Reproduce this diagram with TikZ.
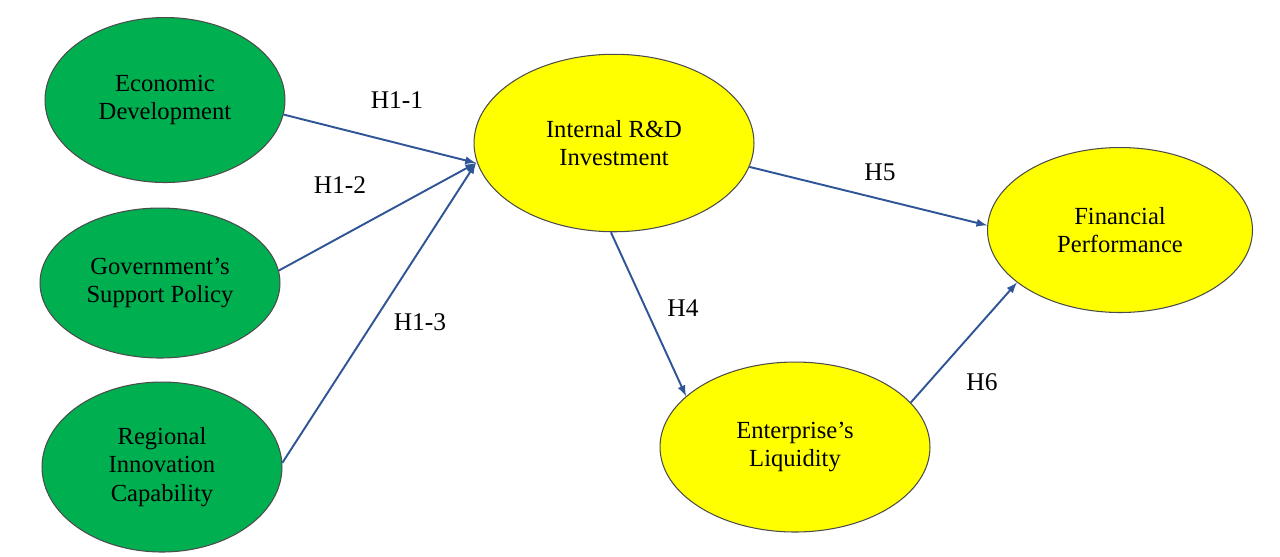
\documentclass[tikz,border=0pt]{standalone}
\usepackage{fontspec}
\setmainfont{Liberation Serif}
\usetikzlibrary{shapes.geometric}
\definecolor{ovgreen}{RGB}{0,176,80}
\definecolor{ovyellow}{RGB}{255,255,0}
\definecolor{arblue}{RGB}{47,85,151}
\tikzset{
  oval/.style={ellipse,draw=black!70,line width=0.6pt,align=center,font=\fontsize{14}{16}\selectfont},
  gov/.style={oval,fill=ovgreen,minimum width=4.8cm,minimum height=3.2cm},
  firm/.style={oval,fill=ovyellow},
  path/.style={draw=arblue,line width=1.1pt,-latex},
  hyp/.style={font=\fontsize{14.5}{16}\selectfont}
}
\begin{document}
\begin{tikzpicture}[x=0.02cm,y=-0.02cm]
  \useasboundingbox (0,0) rectangle (1280,556);
  % factors
  \node[gov,minimum height=3.3cm] (eco) at (165,100) {Economic\\Development};
  \node[gov,minimum height=3.0cm] (gsp) at (160,283) {Government's\\Support Policy};
  \node[gov,minimum height=3.4cm] (ric) at (162,467) {Regional\\Innovation\\Capability};
  % firm level
  \node[firm,minimum width=5.6cm,minimum height=3.55cm] (rd) at (614,143) {Internal R\&D\\Investment};
  \node[firm,minimum width=5.3cm,minimum height=3.3cm] (fin) at (1120,230) {Financial\\Performance};
  \node[firm,minimum width=5.4cm,minimum height=3.4cm] (liq) at (795,447) {Enterprise's\\Liquidity};
  \coordinate (rdin) at (476,163);
  % hypotheses
  \draw[path] (eco.-7) -- (rdin);
  \draw[path] (gsp.6) -- (rdin);
  \draw[path] (ric.2) -- (rdin);
  \draw[path] (rd.-10) -- (fin.178);
  \draw[path] (rd.268) -- (liq.155);
  \draw[path] (liq.21) -- (fin.207);
  \node[hyp] (h11) at (397,100) {H1-1};
  \node[hyp] (h12) at (340,185) {H1-2};
  \node[hyp] (h13) at (420,322) {H1-3};
  \node[hyp] (h5) at (880,172) {H5};
  \node[hyp] (h4) at (683,308) {H4};
  \node[hyp] (h6) at (982,382) {H6};
\end{tikzpicture}
\end{document}
